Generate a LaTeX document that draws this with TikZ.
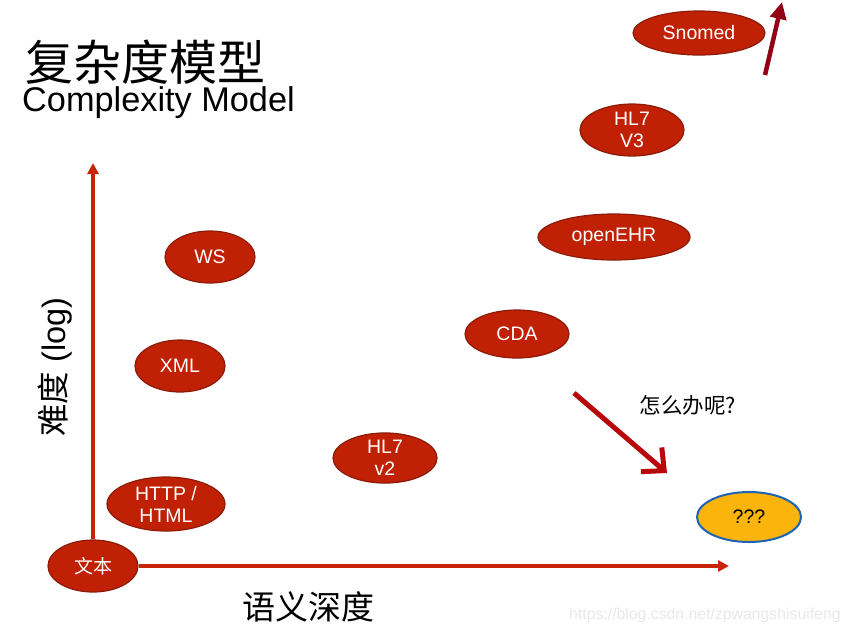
\documentclass[tikz,border=0pt]{standalone}
\usepackage{fontspec}
\setmainfont{Liberation Sans}
\newfontfamily\cjk{Noto Sans CJK SC}
\usetikzlibrary{arrows.meta,shapes.geometric}
\definecolor{ellfill}{RGB}{192,32,4}
\definecolor{elldraw}{RGB}{140,28,10}
\definecolor{axisred}{RGB}{200,36,8}
\definecolor{darkarrow}{RGB}{145,0,20}
\definecolor{diagred}{RGB}{185,8,12}
\definecolor{qfill}{RGB}{250,180,12}
\definecolor{qdraw}{RGB}{30,100,180}
\definecolor{wm}{RGB}{232,232,232}
\tikzset{
  tech/.style={ellipse, fill=ellfill, draw=elldraw, line width=1.2pt, text=white, inner sep=0pt, align=center, font=\fontsize{19.5}{22}\selectfont},
  axis/.style={draw=axisred, line width=3.5pt, -{Triangle[length=11pt,width=11pt]}},
}
\begin{document}
\begin{tikzpicture}[x=1pt,y=-1pt]
\useasboundingbox (0,0) rectangle (850,633);
% title
\node[anchor=west, inner sep=0pt, font=\cjk\fontsize{48}{48}\selectfont] (t1) at (25,62) {复杂度模型};
\node[anchor=west, inner sep=0pt, font=\fontsize{34.3}{34}\selectfont] (t2) at (22,103) {Complexity Model};
% nodes
\node[tech, minimum width=132pt, minimum height=44pt] (snomed) at (699,33) {Snomed};
\node[tech, minimum width=104pt, minimum height=52pt] (hl7v3) at (632,130) {HL7\\V3};
\node[tech, minimum width=152pt, minimum height=46pt] (openehr) at (614,237) {openEHR};
\node[tech, minimum width=104pt, minimum height=48pt] (cda) at (517,334) {CDA};
\node[tech, minimum width=90pt, minimum height=52pt] (ws) at (210,257) {WS};
\node[tech, minimum width=90pt, minimum height=52pt] (xml) at (180,366) {XML};
\node[tech, minimum width=104pt, minimum height=50pt] (hl7v2) at (385,458) {HL7\\v2};
\node[tech, minimum width=118pt, minimum height=54pt] (http) at (166,504) {HTTP /\\HTML};
\node[tech, minimum width=90pt, minimum height=52pt, font=\cjk\fontsize{19}{21}\selectfont] (wenben) at (93,566) {文本};
\node[ellipse, fill=qfill, draw=qdraw, line width=2pt, inner sep=0pt, minimum width=104pt, minimum height=50pt, font=\fontsize{19.5}{21}\selectfont] (qqq) at (749,517) {???};
% axes
\coordinate (ytip) at (93,163);
\coordinate (xtip) at (729,566);
\draw[axis] (wenben.north) -- (ytip);
\draw[axis] (wenben.east) -- (xtip);
% axis labels
\node[inner sep=0pt, font=\cjk\fontsize{33}{33}\selectfont] (xlab) at (308,607) {语义深度};
\node[inner sep=0pt, rotate=90, font=\fontsize{32.5}{32}\selectfont] (ylab) at (55,367) {{\cjk 难度} (log)};
% arrows
\coordinate (a1s) at (765,75);
\coordinate (a1e) at (782,2);
\draw[darkarrow, line width=4.5pt, -{Triangle[length=17pt,width=16pt]}] (a1s) -- (a1e);
\coordinate (a2s) at (574,393);
\coordinate (a2e) at (667,473);
\draw[diagred, line width=5pt, -{Straight Barb[length=17pt,width=32pt]}] (a2s) -- (a2e);
\node[inner sep=0pt, font=\cjk\fontsize{21.5}{21}\selectfont] (q) at (688,405) {怎么办呢?};
% watermark
\node[anchor=west, inner sep=0pt, text=wm, font=\fontsize{15.8}{16}\selectfont] (wmark) at (569,615) {https://blog.csdn.net/zpwangshisuifeng};
\end{tikzpicture}
\end{document}
